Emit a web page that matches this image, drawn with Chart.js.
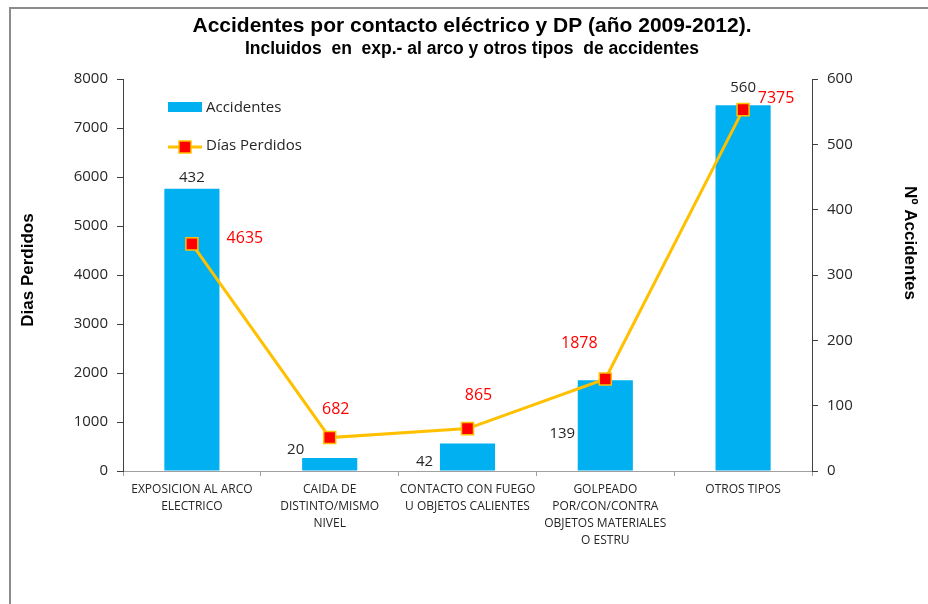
<!DOCTYPE html>
<html><head><meta charset="utf-8">
<script src="https://cdn.jsdelivr.net/npm/chart.js@4"></script>
<style>html,body{margin:0;padding:0;background:#fff}#wrap{position:relative;width:928px;height:604px}</style>
</head><body><div id="wrap"><canvas id="c" width="928" height="604"></canvas></div>
<script>
const categories = [
  ["EXPOSICION AL ARCO", "ELECTRICO"],
  ["CAIDA DE", "DISTINTO/MISMO", "NIVEL"],
  ["CONTACTO CON FUEGO", "U OBJETOS CALIENTES"],
  ["GOLPEADO", "POR/CON/CONTRA", "OBJETOS MATERIALES", "O ESTRU"],
  ["OTROS TIPOS"]
];
const accidentes = [432, 20, 42, 139, 560];
const diasPerdidos = [4635, 682, 865, 1878, 7375];
const leftTicks = [0, 1000, 2000, 3000, 4000, 5000, 6000, 7000, 8000];
const rightTicks = [0, 100, 200, 300, 400, 500, 600];

const titleText = "Accidentes por contacto eléctrico y DP (año 2009-2012).";
const subtitleText = "Incluidos  en  exp.- al arco y otros tipos  de accidentes";
const leftTitle = "Dias Perdidos";
const rightTitle = "Nº Accidentes";

const BAR_COLOR = '#00B0F0';
const LINE_COLOR = '#FFC000';
const MARK_COLOR = '#FF0000';
const TXT = '#262626';

// label offsets (pixels) relative to bar top / point
const barLabelOffsets = [[0,-11],[-34,-8],[-43,18],[-43,54],[0,-17]];
const lineLabelOffsets = [[53,-5],[6,-28],[11,-33],[-26,-36],[33,-11]];

const decorPlugin = {
  id: 'decor',
  beforeDraw(chart) {
    const ctx = chart.ctx;
    ctx.save();
    ctx.fillStyle = '#fff';
    ctx.fillRect(0, 0, chart.width, chart.height);
    ctx.strokeStyle = '#8c8c8c';
    ctx.lineWidth = 2;
    ctx.beginPath();
    ctx.moveTo(10, 604);
    ctx.lineTo(10, 8);
    ctx.lineTo(928, 8);
    ctx.stroke();
    ctx.restore();
  },
  afterDraw(chart) {
    const ctx = chart.ctx;
    ctx.save();
    ctx.textAlign = 'center';
    ctx.textBaseline = 'middle';
    ctx.fillStyle = '#000';
    ctx.font = 'bold 21px "Liberation Sans", Arial, sans-serif';
    ctx.fillText(titleText, 472, 26);
    ctx.font = 'bold 17.5px "Liberation Sans", Arial, sans-serif';
    ctx.fillText(subtitleText, 472, 49);

    // axis titles
    ctx.font = 'bold 17px "Liberation Sans", Arial, sans-serif';
    ctx.save();
    ctx.translate(28, 270);
    ctx.rotate(-Math.PI / 2);
    ctx.fillText(leftTitle, 0, 0);
    ctx.restore();
    ctx.save();
    ctx.translate(910, 243);
    ctx.rotate(Math.PI / 2);
    ctx.fillText(rightTitle, 0, 0);
    ctx.restore();

    // legend
    ctx.fillStyle = BAR_COLOR;
    ctx.fillRect(168, 102, 34, 10);
    ctx.strokeStyle = LINE_COLOR;
    ctx.lineWidth = 3;
    ctx.beginPath();
    ctx.moveTo(168, 147);
    ctx.lineTo(202, 147);
    ctx.stroke();
    ctx.fillStyle = MARK_COLOR;
    ctx.fillRect(179, 141, 12, 12);
    ctx.lineWidth = 1.5;
    ctx.strokeRect(179, 141, 12, 12);
    ctx.fillStyle = TXT;
    ctx.textAlign = 'left';
    ctx.font = '15px "Open Sans", sans-serif';
    ctx.fillText(chart.data.datasets[1].label, 206, 108);
    ctx.fillText(chart.data.datasets[0].label, 206, 146);

    // data labels
    ctx.textAlign = 'center';
    const barMeta = chart.getDatasetMeta(1);
    ctx.fillStyle = TXT;
    ctx.font = '15px "Open Sans", sans-serif';
    barMeta.data.forEach((el, i) => {
      const o = barLabelOffsets[i];
      ctx.fillText(String(accidentes[i]), el.x + o[0], el.y + o[1]);
    });
    const lineMeta = chart.getDatasetMeta(0);
    ctx.fillStyle = MARK_COLOR;
    ctx.font = '16px "Open Sans", sans-serif';
    lineMeta.data.forEach((el, i) => {
      const o = lineLabelOffsets[i];
      ctx.fillText(String(diasPerdidos[i]), el.x + o[0], el.y + o[1]);
    });
    ctx.restore();
  }
};

new Chart(document.getElementById('c'), {
  data: {
    labels: categories,
    datasets: [
      {
        type: 'line',
        label: 'Días Perdidos',
        data: diasPerdidos,
        yAxisID: 'y',
        borderColor: LINE_COLOR,
        borderWidth: 3,
        backgroundColor: MARK_COLOR,
        pointStyle: 'rect',
        pointRadius: 8.5,
        pointBorderColor: LINE_COLOR,
        pointBorderWidth: 1.5,
        pointBackgroundColor: MARK_COLOR,
        tension: 0,
        fill: false,
        order: 0
      },
      {
        type: 'bar',
        label: 'Accidentes',
        data: accidentes,
        yAxisID: 'y1',
        backgroundColor: BAR_COLOR,
        borderWidth: 0,
        barPercentage: 0.4,
        categoryPercentage: 1.0,
        order: 1
      }
    ]
  },
  options: {
    responsive: false,
    devicePixelRatio: 1,
    animation: false,
    layout: { padding: { top: 79, left: 0, right: 0, bottom: 0 } },
    plugins: { legend: { display: false }, tooltip: { enabled: false }, title: { display: false } },
    scales: {
      x: {
        type: 'category',
        offset: true,
        afterFit(s) { s.height = 133; },
        grid: { drawOnChartArea: false, drawTicks: true, tickLength: 5, color: '#a0a0a0', offset: true },
        border: { display: true, color: '#a0a0a0', width: 1 },
        ticks: {
          autoSkip: false, maxRotation: 0, minRotation: 0, padding: 5,
          color: TXT, font: { family: '"Open Sans", sans-serif', size: 12, lineHeight: '17px' }
        }
      },
      y: {
        position: 'left',
        min: 0, max: 8000,
        afterFit(s) { s.width = 123; },
        afterBuildTicks(s) { s.ticks = leftTicks.map(v => ({ value: v })); },
        grid: { drawOnChartArea: false, drawTicks: true, tickLength: 6, color: '#404040' },
        border: { display: true, color: '#404040', width: 1 },
        ticks: { padding: 9, color: TXT, font: { family: '"Open Sans", sans-serif', size: 15 },
          callback: (v) => String(v) }
      },
      y1: {
        position: 'right',
        min: 0, max: 600,
        afterFit(s) { s.width = 116; },
        afterBuildTicks(s) { s.ticks = rightTicks.map(v => ({ value: v })); },
        grid: { drawOnChartArea: false, drawTicks: true, tickLength: 6, color: '#404040' },
        border: { display: true, color: '#404040', width: 1 },
        ticks: { padding: 9, color: TXT, font: { family: '"Open Sans", sans-serif', size: 15 },
          callback: (v) => String(v) }
      }
    }
  },
  plugins: [decorPlugin]
});
</script>
</body></html>
